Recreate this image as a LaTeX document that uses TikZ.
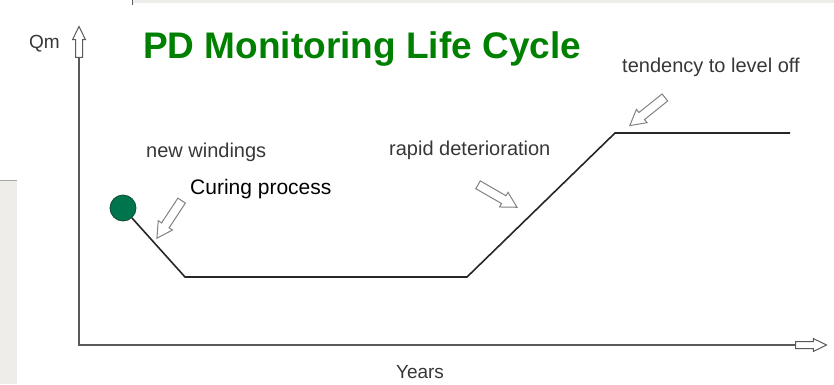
\documentclass[tikz,border=0pt]{standalone}
\usepackage{fontspec}
\setmainfont{Liberation Sans}
\usetikzlibrary{positioning,shapes,arrows}
\definecolor{titlegreen}{RGB}{0,128,0}
\definecolor{dotgreen}{RGB}{0,116,76}
\definecolor{dotedge}{RGB}{16,78,48}
\definecolor{labelgray}{RGB}{55,55,55}
\definecolor{axisgray}{RGB}{90,90,90}
\definecolor{arrowgray}{RGB}{130,130,130}
\definecolor{panelgray}{RGB}{238,237,234}

\begin{document}
\begin{tikzpicture}[x=1pt, y=1pt,
    lbl/.style={text=labelgray, font=\fontsize{20}{24}\selectfont, inner sep=0pt},
    hollow/.style={single arrow, draw=arrowgray, fill=white, line width=1pt,
        inner xsep=0pt, inner ysep=4pt, minimum height=45pt,
        single arrow head extend=4pt, single arrow tip angle=58},
    axisarrow/.style={hollow, minimum height=31pt, inner ysep=3pt,
        single arrow head extend=3pt, single arrow tip angle=52, draw=axisgray}]
				\useasboundingbox (0,0) rectangle (834,384);
				% background panels
				\fill[panelgray] (132,381) rectangle (834,384);
				\draw[axisgray, line width=0.8pt] (132,379) -- (132,384);
				\fill[panelgray] (0,0) rectangle (17,204);
				\draw[gray!70, line width=0.8pt] (0,204) -- (17,204);
				% axes
				\coordinate (O) at (79,39);
				\node[axisarrow, rotate=90] (yarr) at (79,338.5) {};
				\node[axisarrow] (xarr) at (807.5,39) {};
				\draw[axisgray, line width=1.6pt] (yarr.tail) -- (O) -- (xarr.tail);
				\node[text=labelgray, font=\fontsize{19}{22}\selectfont, inner sep=0pt, anchor=base west] (qm) at (29,336) {Qm};
				\node[text=labelgray, font=\fontsize{19}{22}\selectfont, inner sep=0pt, anchor=base] (years) at (420,6) {Years};
				% title
				\node[text=titlegreen, font=\fontsize{37}{40}\selectfont\bfseries, inner sep=0pt, anchor=base west] (title) at (143,326) {PD Monitoring Life Cycle};
				% life cycle curve
				\node[circle, fill=dotgreen, draw=dotedge, line width=0.8pt, minimum size=26pt, inner sep=0pt] (start) at (123,176) {};
				\coordinate (low1) at (185,107);
				\coordinate (low2) at (467,107);
				\coordinate (high1) at (615,251);
				\coordinate (high2) at (790,251);
				\draw[black!85, line width=1.6pt] (start) -- (low1) -- (low2) -- (high1) -- (high2);
				% labels and pointers
				\node[lbl, anchor=base west] (neww) at (146,227) {new windings};
				\node[font=\fontsize{21}{24}\selectfont, inner sep=0pt, anchor=base west] (curing) at (190,190) {Curing process};
				\node[lbl, anchor=base west] (rapid) at (389,229) {rapid deterioration};
				\node[lbl, anchor=base west] (level) at (622,312) {tendency to level off};
				\node[hollow, rotate=236.7] (curarr) at (171.5,168) {};
				\node[hollow, rotate=-30] (rapidarr) at (494,190) {};
				\node[hollow, rotate=218.7] (levelarr) at (650.5,275) {};
			\end{tikzpicture}
\end{document}
